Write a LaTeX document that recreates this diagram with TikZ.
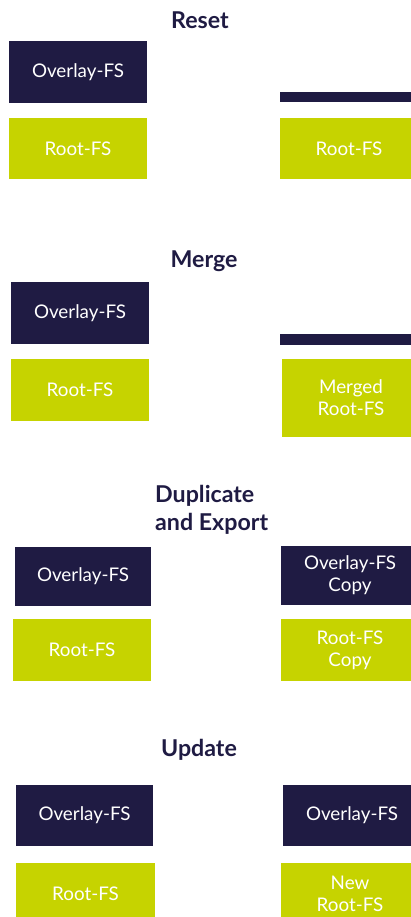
\documentclass[tikz,border=0pt]{standalone}
\usepackage{fontspec}
\setmainfont{Lato}
\definecolor{navy}{HTML}{1F1B43}
\definecolor{lime}{HTML}{C6D300}
\begin{document}
\begin{tikzpicture}[x=1pt,y=-1pt,
  box/.style={rectangle, inner sep=0pt, align=center, text=white,
    font=\fontsize{18.8}{22}\selectfont},
  ovl/.style={box, fill=navy},
  root/.style={box, fill=lime},
  ttl/.style={text=navy, font=\fontsize{23.2}{28}\selectfont\bfseries, inner sep=0pt}]
\useasboundingbox (0,0) rectangle (411,917);
\clip (0,0) rectangle (411,917);
% Reset
\node[ttl] (t1) at (200,20) {Reset};
\node[ovl, minimum width=138, minimum height=62] (ov1) at (78,72) {Overlay-FS};
\node[root, minimum width=138, minimum height=61] (rt1) at (78,148.5) {Root-FS};
\node[ovl, minimum width=138, minimum height=10] (bar1) at (349,97) {};
\node[root, minimum width=138, minimum height=61] (rr1) at (349,148.5) {Root-FS};
% Merge
\node[ttl] (t2) at (204,261) {Merge};
\node[ovl, minimum width=138, minimum height=62] (ov2) at (80,313) {Overlay-FS};
\node[root, minimum width=138, minimum height=62] (rt2) at (80,390) {Root-FS};
\node[ovl, minimum width=138, minimum height=11] (bar2) at (349,339.5) {};
\node[root, minimum width=138, minimum height=78] (rr2) at (351,398) {Merged\\Root-FS};
% Duplicate and Export
\node[ttl, align=left, anchor=west] (t3) at (155,510) {Duplicate\\and Export};
\node[ovl, minimum width=136, minimum height=59] (ov3) at (83,576.5) {Overlay-FS};
\node[root, minimum width=138, minimum height=62] (rt3) at (82,650) {Root-FS};
\node[ovl, minimum width=138, minimum height=59] (ro3) at (350,575.5) {Overlay-FS\\Copy};
\node[root, minimum width=138, minimum height=62] (rr3) at (350,650) {Root-FS\\Copy};
% Update
\node[ttl] (t4) at (199,750) {Update};
\node[ovl, minimum width=137, minimum height=61] (ov4) at (84.5,815.5) {Overlay-FS};
\node[root, minimum width=139, minimum height=62] (rt4) at (85.5,894) {Root-FS};
\node[ovl, minimum width=138, minimum height=61] (ro4) at (352,815.5) {Overlay-FS};
\node[root, minimum width=138, minimum height=62] (rr4) at (350,894) {New\\Root-FS};
\end{tikzpicture}
\end{document}
